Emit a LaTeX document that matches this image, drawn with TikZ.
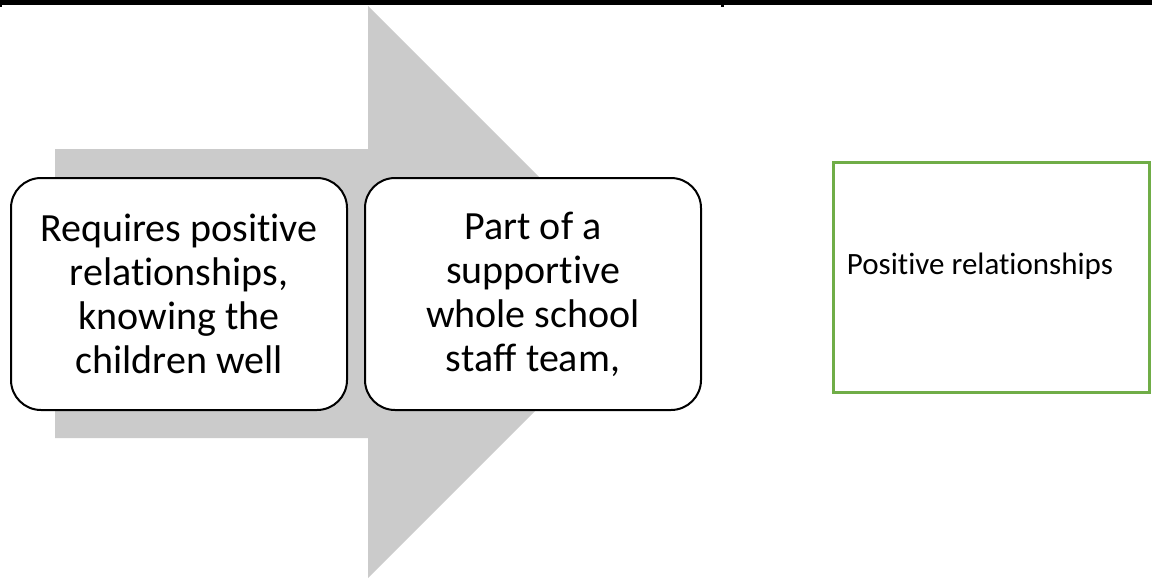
\documentclass[tikz,border=0pt]{standalone}
\usepackage{fontspec}
\setmainfont{Carlito}[Ligatures={NoCommon}]
\usetikzlibrary{positioning}

\definecolor{arrowgray}{RGB}{203,203,203}
\definecolor{framegreen}{RGB}{112,173,71}

\tikzset{
	card/.style={draw,line width=2pt,rounded corners=30pt,fill=white,
		minimum width=336pt,minimum height=232pt,
		align=center,font=\fontsize{40}{44}\selectfont},
	greenbox/.style={draw=framegreen,line width=3pt,
		minimum width=316pt,minimum height=230pt,text depth=26pt,
		font=\fontsize{31}{36}\selectfont}
}

\begin{document}
\begin{tikzpicture}[x=1pt,y=-1pt]
	\useasboundingbox (0,0) rectangle (1152,579);
	% Top rule
	\fill (0,0) rectangle (1152,4.5);
	\fill (721,0) rectangle (723.5,7);
	\fill (0,0) rectangle (1.5,7);
	% Background arrow
	\fill[arrowgray] (55,149) -- (368,149) -- (368,6) -- (654,292)
		-- (368,578) -- (368,438) -- (55,438) -- cycle;
	% Define nodes
	\node[card] (needs) at (179,294) {Requires positive\\relationships,\\knowing the\\children well};
	\node[card, right=16pt of needs] (team) {Part of a\\supportive\\whole school\\staff team,};
	\node[greenbox] (pos) at (991,277) {Positive relationships\hspace*{22pt}};
\end{tikzpicture}
\end{document}
